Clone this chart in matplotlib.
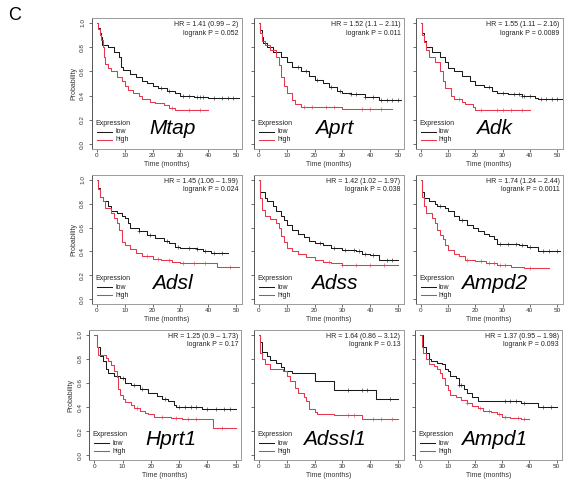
import matplotlib
matplotlib.use("Agg")
import matplotlib.pyplot as plt
import numpy as np

plt.rcParams['font.family'] = ['Liberation Sans', 'DejaVu Sans']

genes = ["Mtap", "Aprt", "Adk", "Adsl", "Adss", "Ampd2", "Hprt1", "Adssl1", "Ampd1"]
hr_text = ["HR = 1.41 (0.99 \u2013 2)", "HR = 1.52 (1.1 \u2013 2.11)", "HR = 1.55 (1.11 \u2013 2.16)",
           "HR = 1.45 (1.06 \u2013 1.99)", "HR = 1.42 (1.02 \u2013 1.97)", "HR = 1.74 (1.24 \u2013 2.44)",
           "HR = 1.25 (0.9 \u2013 1.73)", "HR = 1.64 (0.86 \u2013 3.12)", "HR = 1.37 (0.95 \u2013 1.98)"]
p_text = ["logrank P = 0.052", "logrank P = 0.011", "logrank P = 0.0089",
          "logrank P = 0.024", "logrank P = 0.038", "logrank P = 0.0011",
          "logrank P = 0.17", "logrank P = 0.13", "logrank P = 0.093"]

# ---- low-expression curves (time, survival) ----
low_t = [
    [0, 0.5, 1, 1.5, 1.8, 4, 6, 8, 8.7, 9.5, 12, 14, 16, 18, 20, 22, 25, 28, 30, 35, 40],
    [0, 0.5, 1, 1.5, 3, 5, 8, 10, 12, 15, 18, 20, 23, 25, 28, 30, 33, 38, 43],
    [0, 0.5, 1, 2, 4, 7, 9, 10, 12, 15, 18, 20, 23, 26, 28, 32, 37, 42, 43],
    [0, 0.5, 1, 2, 4, 5, 7, 9, 10, 11, 12, 15, 18, 21, 24, 26, 28, 30, 36, 38, 41],
    [0, 0.5, 2, 3, 5, 6, 8, 9, 10, 12, 14, 16, 18, 20, 23, 26, 30, 35, 37, 40, 43],
    [0, 0.5, 1, 3, 5, 6, 9, 10, 12, 14, 17, 19, 21, 23, 25, 27, 28, 36, 39, 43],
    [0, 1, 2, 3, 4, 5, 7, 9, 11, 13, 16, 19, 22, 24, 26, 28, 29, 38],
    [0, 0.5, 1, 3, 4, 6, 8, 9, 12, 20, 27, 42],
    [0, 1, 2, 3, 4, 6, 8, 9, 10, 11, 13, 14, 16, 17, 19, 21, 37, 43],
]
low_s = [
    [1.0, 0.96, 0.92, 0.88, 0.82, 0.80, 0.76, 0.72, 0.64, 0.61, 0.58, 0.55, 0.52, 0.50, 0.48, 0.46, 0.44, 0.42, 0.40, 0.39, 0.38],
    [1.0, 0.94, 0.88, 0.83, 0.80, 0.76, 0.72, 0.68, 0.64, 0.60, 0.56, 0.53, 0.50, 0.47, 0.44, 0.42, 0.41, 0.39, 0.36],
    [1.0, 0.92, 0.85, 0.80, 0.76, 0.72, 0.68, 0.63, 0.60, 0.56, 0.52, 0.49, 0.47, 0.44, 0.42, 0.41, 0.40, 0.38, 0.37],
    [1.0, 0.93, 0.86, 0.82, 0.78, 0.74, 0.72, 0.70, 0.68, 0.64, 0.60, 0.57, 0.54, 0.51, 0.49, 0.47, 0.44, 0.43, 0.42, 0.40, 0.39],
    [1.0, 0.90, 0.85, 0.82, 0.78, 0.74, 0.70, 0.66, 0.62, 0.58, 0.55, 0.52, 0.49, 0.47, 0.45, 0.43, 0.41, 0.40, 0.38, 0.37, 0.33],
    [1.0, 0.90, 0.85, 0.82, 0.80, 0.78, 0.76, 0.74, 0.70, 0.66, 0.62, 0.60, 0.57, 0.55, 0.53, 0.50, 0.46, 0.45, 0.44, 0.40],
    [1.0, 0.90, 0.82, 0.78, 0.72, 0.68, 0.66, 0.64, 0.60, 0.58, 0.55, 0.52, 0.49, 0.47, 0.45, 0.42, 0.40, 0.38],
    [1.0, 0.94, 0.86, 0.82, 0.79, 0.77, 0.73, 0.70, 0.68, 0.62, 0.54, 0.47],
    [1.0, 0.90, 0.85, 0.80, 0.78, 0.77, 0.76, 0.72, 0.70, 0.66, 0.64, 0.58, 0.55, 0.52, 0.48, 0.45, 0.43, 0.40],
]
low_end = [51, 51, 52, 47, 50, 51, 50, 50, 50]
low_cens = [
    [23, 26, 31, 33, 36, 37, 38, 42, 45, 47, 49],
    [14, 17, 21, 26, 29, 33, 35, 38, 41, 44, 46, 48, 50],
    [25, 30, 34, 36, 37, 38, 40, 44, 46, 48, 50],
    [15, 19, 25, 29, 33, 36, 39, 42, 45],
    [22, 27, 31, 34, 36, 38, 41, 46, 48],
    [7, 15, 29, 32, 35, 37, 40, 45, 47, 50],
    [10, 14, 17, 25, 30, 32, 34, 36, 40, 43, 46, 48],
    [32, 37, 39, 47],
    [14, 15, 31, 33, 35, 38, 45, 48],
]

# ---- high-expression curves ----
high_t = [
    [0, 0.5, 1, 1.5, 2, 2.5, 3, 4, 5, 7, 9, 10, 11, 13, 15, 16, 19, 21, 24, 26, 28],
    [0, 0.5, 1, 2, 4, 6, 7, 8, 9, 10, 12, 13, 15, 30],
    [0, 0.5, 1, 2, 3, 5, 7, 8, 9, 11, 12, 15, 16, 19, 20],
    [0, 0.5, 1, 2, 3, 5, 6, 7, 8, 9, 10, 12, 14, 16, 20, 23, 27, 30, 43],
    [0, 0.5, 1, 2, 4, 6, 7, 8, 9, 10, 12, 14, 17, 20, 23, 26, 30],
    [0, 0.5, 1, 2, 4, 5, 6, 7, 8, 9, 10, 12, 14, 16, 20, 24, 28, 33, 38],
    [0, 1, 1.5, 4, 5, 6, 7, 8, 8.5, 9, 10, 11, 13, 14, 16, 18, 19, 21, 27, 31, 42],
    [0, 0.5, 1, 2, 4, 8.5, 10, 11, 13, 14, 16, 17, 18, 20, 21, 27, 37],
    [0, 0.5, 1, 2, 3, 5, 6, 7, 8, 9, 10, 11, 13, 15, 17, 19, 21, 23, 26, 28, 30, 33, 37],
]
high_s = [
    [1.0, 0.95, 0.90, 0.86, 0.80, 0.72, 0.66, 0.63, 0.60, 0.55, 0.52, 0.48, 0.45, 0.42, 0.40, 0.37, 0.35, 0.34, 0.32, 0.30, 0.28],
    [1.0, 0.92, 0.85, 0.82, 0.78, 0.72, 0.65, 0.55, 0.48, 0.42, 0.36, 0.33, 0.31, 0.29],
    [1.0, 0.90, 0.84, 0.78, 0.72, 0.68, 0.60, 0.52, 0.46, 0.40, 0.37, 0.35, 0.33, 0.31, 0.28],
    [1.0, 0.92, 0.86, 0.82, 0.76, 0.72, 0.68, 0.64, 0.58, 0.48, 0.45, 0.42, 0.39, 0.36, 0.34, 0.33, 0.31, 0.30, 0.27],
    [1.0, 0.85, 0.75, 0.70, 0.67, 0.64, 0.60, 0.53, 0.48, 0.43, 0.40, 0.38, 0.35, 0.33, 0.31, 0.30, 0.29],
    [1.0, 0.86, 0.78, 0.72, 0.68, 0.64, 0.58, 0.54, 0.50, 0.45, 0.41, 0.38, 0.36, 0.33, 0.32, 0.30, 0.29, 0.27, 0.26],
    [1.0, 0.90, 0.83, 0.81, 0.78, 0.75, 0.70, 0.65, 0.55, 0.50, 0.47, 0.44, 0.42, 0.39, 0.37, 0.35, 0.34, 0.32, 0.31, 0.30, 0.23],
    [1.0, 0.85, 0.80, 0.76, 0.72, 0.70, 0.66, 0.62, 0.56, 0.52, 0.48, 0.45, 0.38, 0.36, 0.34, 0.33, 0.30],
    [1.0, 0.90, 0.85, 0.80, 0.76, 0.74, 0.72, 0.68, 0.64, 0.58, 0.54, 0.50, 0.48, 0.46, 0.43, 0.41, 0.39, 0.37, 0.36, 0.34, 0.32, 0.31, 0.30],
]
high_end = [40, 48, 40, 51, 50, 47, 50, 50, 40]
high_cens = [
    [27, 33, 37],
    [16, 19, 24, 27, 37, 40, 44],
    [14, 22, 28, 30, 33, 37],
    [18, 22, 26, 31, 35, 39, 48],
    [25, 30, 35, 40, 45],
    [17, 22, 25, 27, 29, 31, 40],
    [15, 24, 29, 33, 36, 45],
    [32, 34, 41, 44, 48],
    [17, 22, 25, 29, 31, 36, 38],
]

x_ticks = [0, 10, 20, 30, 40, 50]
y_ticks = [0.0, 0.2, 0.4, 0.6, 0.8, 1.0]

LOW_C = "#1a1a1a"
HIGH_C = "#e8374c"

W, H = 564, 490
fig = plt.figure(figsize=(W / 100, H / 100), dpi=100)

# panel layout in pixels
col_left = [[91.5, 253.5, 415.5], [91.5, 253.5, 415.5], [88.5, 253.5, 415.0]]
col_w = [[150, 150, 147], [150, 150, 147], [153, 150, 147]]
row_top = [18, 175, 330]
row_h = [131, 129, 130]


def km_value(t, s, x):
    idx = np.searchsorted(np.asarray(t), x, side="right") - 1
    return np.asarray(s)[idx]


for k in range(9):
    r, c = divmod(k, 3)
    l = col_left[r][c]
    w = col_w[r][c]
    top = row_top[r]
    h = row_h[r]
    ax = fig.add_axes([l / W, 1 - (top + h) / H, w / W, h / H])

    for t, s, end, cens, col in [(low_t[k], low_s[k], low_end[k], low_cens[k], LOW_C),
                                 (high_t[k], high_s[k], high_end[k], high_cens[k], HIGH_C)]:
        tt = list(t) + [end]
        ss = list(s) + [s[-1]]
        ax.step(tt, ss, where="post", color=col, lw=0.75)
        cx = np.array(cens)
        cy = km_value(t, s, cx)
        ax.plot(cx, cy, ls="none", marker="+", ms=3, mew=0.5, color=col, alpha=0.8)

    ax.set_xlim(-2, 52)
    ax.set_ylim(-0.04, 1.04)
    ax.set_xticks(x_ticks)
    ax.set_yticks(y_ticks)
    ax.tick_params(axis="both", length=2, width=0.5, labelsize=4.6, colors="#333333")
    ax.tick_params(axis="x", pad=1)
    ax.tick_params(axis="y", pad=2.5)
    if c == 0:
        ax.set_yticklabels([f"{v:.1f}" for v in y_ticks], rotation=90, va="center")
        ax.set_ylabel("Probability", fontsize=5, labelpad=2, color="#333333")
    else:
        ax.set_yticklabels([])
    ax.set_xlabel("Time (months)", fontsize=5, labelpad=2, color="#333333")
    for side, sp in ax.spines.items():
        sp.set_linewidth(0.7)
        sp.set_color("#9a9a9a")
    ax.spines["left"].set_color("#555555")

    ax.text(0.98, 0.947, hr_text[k], transform=ax.transAxes, ha="right", va="center",
            fontsize=5, color="#222222")
    ax.text(0.98, 0.885, p_text[k], transform=ax.transAxes, ha="right", va="center",
            fontsize=5, color="#222222")

    # legend
    ax.text(0.023, 0.198, "Expression", transform=ax.transAxes, ha="left", va="center",
            fontsize=5, color="#222222")
    ax.plot([0.037, 0.137], [0.13, 0.13], transform=ax.transAxes, color=LOW_C, lw=0.75)
    ax.plot([0.037, 0.137], [0.069, 0.069], transform=ax.transAxes, color=HIGH_C, lw=0.75)
    ax.text(0.157, 0.13, "low", transform=ax.transAxes, ha="left", va="center",
            fontsize=5, color="#222222")
    ax.text(0.157, 0.069, "high", transform=ax.transAxes, ha="left", va="center",
            fontsize=5, color="#222222")

    ax.text(27, 0.13, genes[k], ha="center", va="center", fontsize=15, style="italic",
            color="black")

fig.text(15 / W, 1 - 15 / H, "C", ha="center", va="center", fontsize=13)

fig.savefig("out.png", dpi=100)
